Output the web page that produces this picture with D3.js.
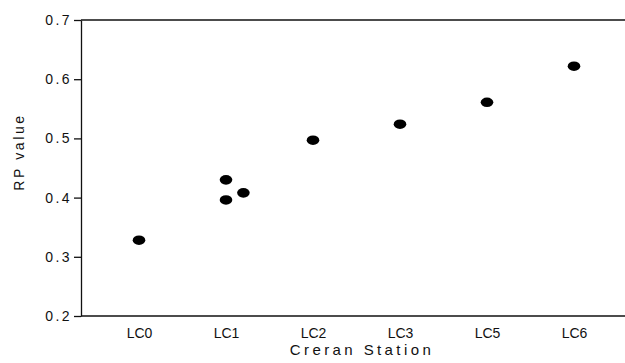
<!DOCTYPE html>
<html>
<head>
<meta charset="utf-8">
<script src="https://cdn.jsdelivr.net/npm/d3@7"></script>
<style>
  body { margin: 0; background: #fff; }
  svg { display: block; font-family: "Liberation Sans", Arial, sans-serif; }
</style>
</head>
<body>
<div id="chart"></div>
<script>
// Stations on the x axis
const stations = ["LC0", "LC1", "LC2", "LC3", "LC5", "LC6"];
// One entry per measured point
const pointStation = ["LC0", "LC1", "LC1", "LC1", "LC2", "LC3", "LC5", "LC6"];
const pointValue = [0.328, 0.430, 0.396, 0.408, 0.497, 0.524, 0.561, 0.622];
// horizontal jitter (fraction of station spacing) for overlapping points
const pointJitter = [0, 0, 0, 0.2, 0, 0, 0, 0];
const yTicks = [0.2, 0.3, 0.4, 0.5, 0.6, 0.7];

const width = 625;
const height = 363;
const margin = { top: 20, right: 0, bottom: 47, left: 81 };
const innerW = width - margin.left - margin.right;
const innerH = height - margin.top - margin.bottom;

const svg = d3.select("#chart")
    .append("svg")
    .attr("width", width)
    .attr("height", height);

const g = svg.append("g")
    .attr("transform", `translate(${margin.left},${margin.top})`);

// Scales
const xScale = d3.scalePoint()
    .domain(stations)
    .range([58, 493]);

const yScale = d3.scaleLinear()
    .domain([0.2, 0.7])
    .range([innerH, 0]);

// Y axis
const yAxis = g.append("g")
    .call(d3.axisLeft(yScale)
        .tickValues(yTicks)
        .tickFormat(d3.format(".1f"))
        .tickSize(7)
        .tickSizeOuter(0)
        .tickPadding(2));
yAxis.selectAll("path, line").attr("stroke", "#111").attr("stroke-width", 1.3);
yAxis.selectAll("text")
    .attr("font-size", 14)
    .attr("letter-spacing", 2.4)
    .attr("fill", "#111");

// X axis (no ticks)
const xAxis = g.append("g")
    .attr("transform", `translate(0,${innerH})`)
    .call(d3.axisBottom(xScale).tickSize(0).tickPadding(12));
xAxis.select(".domain")
    .attr("d", `M0,0H${innerW}`)
    .attr("stroke", "#111")
    .attr("stroke-width", 1.3);
xAxis.selectAll("text")
    .attr("font-size", 14)
    .attr("fill", "#111");

// Top frame line
g.append("line")
    .attr("x1", 0).attr("x2", innerW)
    .attr("y1", yScale(0.7)).attr("y2", yScale(0.7))
    .attr("stroke", "#111")
    .attr("stroke-width", 1.3);

// Axis titles
svg.append("text")
    .attr("x", 362)
    .attr("y", 355)
    .attr("text-anchor", "middle")
    .attr("font-size", 15)
    .attr("letter-spacing", 3.4)
    .attr("fill", "#111")
    .text("Creran Station");

svg.append("text")
    .attr("transform", "translate(24,152) rotate(-90)")
    .attr("text-anchor", "middle")
    .attr("font-size", 14)
    .attr("letter-spacing", 2.6)
    .attr("fill", "#111")
    .text("RP value");

// Points
const step = xScale.step();
g.selectAll(".dot")
    .data(pointValue)
    .enter()
    .append("ellipse")
    .attr("class", "dot")
    .attr("cx", (d, i) => xScale(pointStation[i]) + pointJitter[i] * step)
    .attr("cy", d => yScale(d))
    .attr("rx", 6.3)
    .attr("ry", 4.8)
    .attr("fill", "#000");
</script>
</body>
</html>
